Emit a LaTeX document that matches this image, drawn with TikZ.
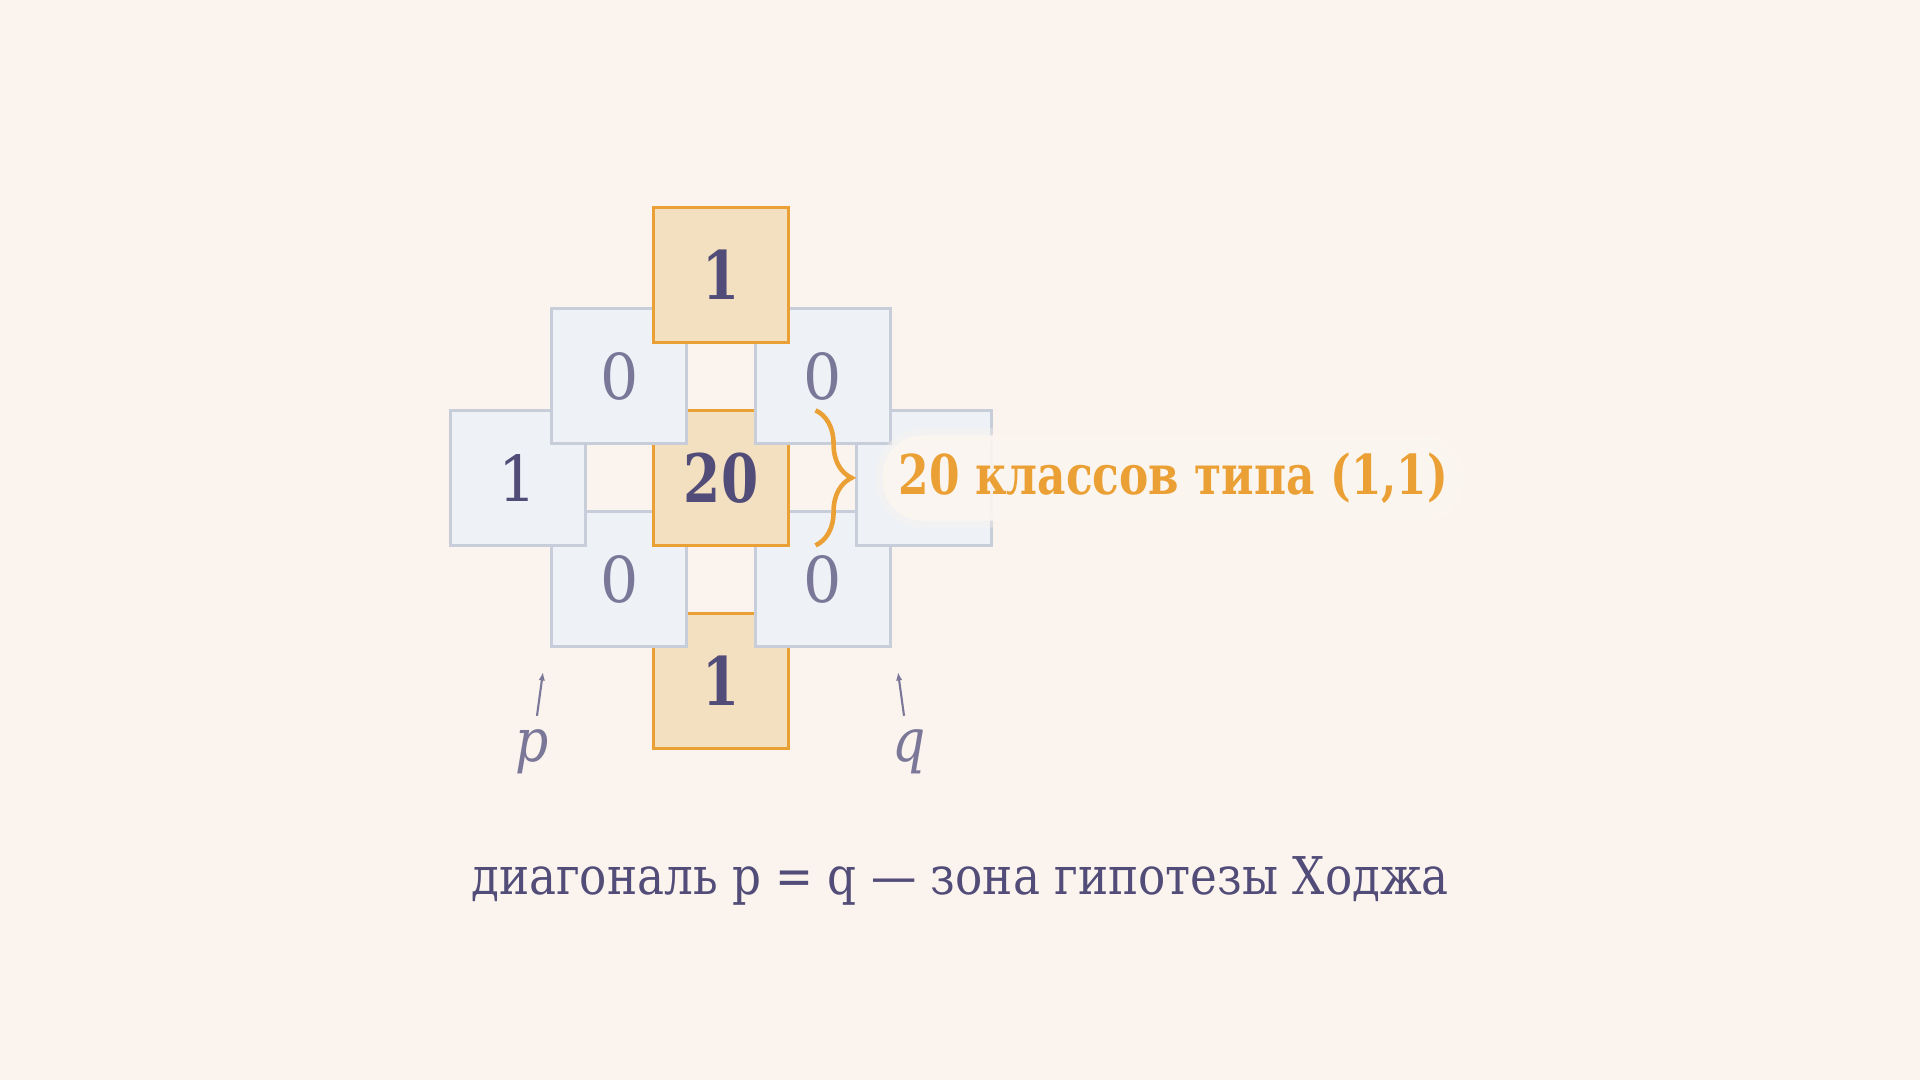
\documentclass[tikz,border=0pt]{standalone}
\usepackage{fontspec}
\setmainfont{DejaVu Serif}[FakeStretch=0.87, BoldFeatures={FakeStretch=0.8}]
\newfontfamily\digitfont{DejaVu Serif}[FakeStretch=0.95]
\usetikzlibrary{arrows.meta,positioning,decorations.pathreplacing}
\definecolor{bgcream}{HTML}{FBF4EE}
\definecolor{hodgeor}{HTML}{EBA035}
\definecolor{orfill}{HTML}{F2E0C0}
\definecolor{grfill}{HTML}{EEF1F6}
\definecolor{grline}{HTML}{C8CDDA}
\definecolor{inkdark}{HTML}{524C78}
\definecolor{inkpale}{HTML}{7A7798}
\definecolor{halo}{HTML}{FCF6F0}

\begin{document}
\begin{tikzpicture}[x=0.01cm, y=-0.01cm,
                    node distance=1.015cm and 1.015cm, on grid,
                    >={Latex[length=2.4pt,width=1.8pt]},
                    hbox/.style={draw, line width=0.85pt, minimum size=1.35cm, inner sep=0pt, outer sep=0pt},
                    obox/.style={hbox, draw=hodgeor, fill=orfill, text=inkdark, font=\fontsize{19}{19}\selectfont\bfseries},
                    gbox/.style={hbox, draw=grline, fill=grfill, text=inkpale, font=\fontsize{18}{18}\selectfont\digitfont},
                    pq/.style={text=inkpale, font=\fontsize{17}{17}\selectfont\itshape, inner sep=0pt, outer sep=0.14cm}]

                   \useasboundingbox (0,0) rectangle (1920,1080);
                   \fill [bgcream] (0,0) rectangle (1920,1080);

                   % diamond, drawn from the bottom row up
                   \node [obox] (h00) at (721,681) {1};
                   \node [gbox, above left=of h00] (h10) {0};
                   \node [gbox, above right=of h00] (h01) {0};
                   \node [gbox, above left=of h10, text=inkdark] (h20) {1};
                   \node [obox, above right=of h10] (h11) {20};
                   \node [gbox, above right=of h01] (h02) {};
                   \node [gbox, above left=of h11] (h21) {0};
                   \node [gbox, above right=of h11] (h12) {0};
                   \node [obox, above right=of h21] (h22) {1};

                   \draw [decorate, decoration={brace, amplitude=0.36cm}, draw=hodgeor, line width=1.3pt]
                         ([xshift=0.27cm]h11.north east) -- ([xshift=0.27cm]h11.south east);
                   \node [anchor=west, fill=halo, fill opacity=0.9, text opacity=1, rounded corners=0.4cm,
                          preaction={draw=halo, draw opacity=0.35, line width=4pt},
                          minimum height=0.85cm, inner xsep=0.16cm, text=hodgeor,
                          font=\fontsize{15.6}{15.6}\selectfont\bfseries] (lbl) at (882,478) {20 классов типа (1,1)};

                   \node [pq] (p) at (532,752) {p};
                   \node [pq] (q) at (909,752) {q};
                   \coordinate (ptip) at (543,672);
                   \coordinate (qtip) at (898,672);
                   \draw [->, inkpale, line width=0.6pt] (p) -- (ptip);
                   \draw [->, inkpale, line width=0.6pt] (q) -- (qtip);

                   \node [text=inkdark, font=\fontsize{14.8}{14.8}\selectfont] (cap) at (960,881) {диагональ p = q — зона гипотезы Ходжа};
\end{tikzpicture}
\end{document}
